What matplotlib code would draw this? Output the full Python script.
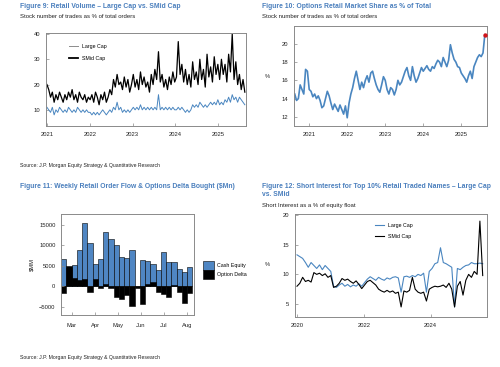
import matplotlib
matplotlib.use("Agg")
import matplotlib.pyplot as plt
import matplotlib.dates as mdates
import pandas as pd

plt.rcParams['font.family'] = ['Liberation Sans', 'DejaVu Sans']

TITLE_BLUE = '#4a7fbd'
LINE_BLUE = '#4a86c0'
FRAME = '#8a8a8a'

# ---------------- data ----------------
# Figure 9: retail volume (semi-monthly readings, Jan 2021 - Aug 2025)
smid_cap = [20, 18, 15, 17, 13, 16, 14, 17, 15, 13, 16, 14, 17, 15, 18, 14, 16, 13, 17, 15, 14, 16, 13, 15,
            14, 16, 13, 17, 15, 12, 16, 14, 17, 13, 15, 18, 16, 22, 19, 24, 20, 21, 18, 23, 19, 22, 17, 20,
            24, 19, 22, 18, 25, 20, 23, 19, 21, 17, 24, 20, 26, 22, 33, 21, 24, 19, 22, 18, 23, 20, 25, 21,
            23, 37, 24, 28, 21, 26, 20, 24, 19, 29, 22, 25, 20, 30, 22, 26, 19, 32, 23, 27, 21, 31, 24, 28,
            22, 30, 24, 28, 21, 32, 25, 40, 22, 29, 20, 24, 18, 22, 17]
large_cap = [11, 10, 9, 11, 8, 10, 9, 11, 10, 9, 10, 9, 11, 10, 9, 10, 9, 11, 10, 9, 10, 9, 10, 9,
             9, 8, 9, 8, 9, 8, 9, 10, 9, 8, 9, 10, 9, 11, 10, 13, 10, 11, 9, 10, 9, 10, 9, 10,
             11, 10, 11, 10, 12, 10, 11, 10, 11, 10, 11, 10, 11, 10, 16, 10, 11, 10, 11, 10, 11, 10, 11, 10,
             10, 11, 10, 11, 10, 9, 10, 9, 10, 12, 11, 12, 11, 13, 12, 11, 12, 11, 12, 13, 12, 13, 12, 14,
             12, 13, 12, 14, 13, 15, 13, 16, 14, 15, 13, 15, 14, 13, 12]
fig9_dates = pd.date_range('2021-01-01', '2025-08-15', periods=len(smid_cap))

# Figure 10: options retail market share (%)
options_share = [14.5, 13.8, 14.0, 15.5, 15.0, 14.5, 17.2, 17.0, 15.0, 14.8, 14.2, 14.5, 14.0, 14.3,
                 13.8, 13.0, 13.2, 14.0, 14.8, 14.3, 13.5, 12.8, 13.4, 13.0, 12.6, 13.3, 12.8, 12.3,
                 13.2, 11.9, 13.5, 14.5, 15.2, 16.2, 17.0, 16.0, 15.0, 15.8, 15.2, 16.0, 16.5, 15.8,
                 16.8, 17.0, 16.2, 15.5, 15.0, 14.7, 15.5, 16.4, 16.0, 15.0, 14.5, 15.2, 15.0, 14.4,
                 15.0, 16.0, 15.5, 15.8, 16.4, 17.0, 17.4, 16.5, 16.0, 17.5, 16.5, 15.8, 16.2, 16.8,
                 17.4, 17.0, 17.3, 17.6, 17.2, 17.0, 17.5, 17.3, 17.8, 18.2, 18.0, 17.5, 18.5, 18.0,
                 17.5, 18.2, 19.9, 19.0, 18.3, 18.0, 17.5, 17.4, 16.8, 16.5, 16.2, 15.8, 16.5, 17.0,
                 16.2, 17.5, 18.0, 18.5, 18.8, 18.6, 19.0, 21.0]
fig10_dates = pd.date_range('2020-08-15', '2025-08-15', periods=len(options_share))

# Figure 11: weekly retail order flow ($Mn)
cash_equity = [6700, 4600, 5300, 8800, 15600, 10600, 5500, 6600, 13400, 11500, 10000, 7300, 7000,
               8900, 0, 6500, 6300, 5500, 3900, 8400, 5900, 5900, 4300, 3600, 4800]
option_delta = [-1700, 4900, 2000, 1500, 1900, -1400, 1700, -400, 600, -500, -2700, -3100, -2000,
                -4800, -300, -4200, 500, 1000, -1300, -1900, -2500, 400, -1300, -4000, -1500]
fig11_weeks = pd.date_range('2025-02-18', periods=len(cash_equity), freq='7D')

# Figure 12: short interest (% of equity float)
si_large = [13.3, 13.0, 12.7, 12.0, 11.2, 12.0, 11.5, 11.0, 11.6, 10.8, 11.5, 11.0, 10.5, 8.0, 7.8, 8.2,
            8.5, 8.0, 8.3, 7.9, 8.2, 8.0, 8.4, 8.0, 8.6, 9.2, 9.6, 9.3, 9.0, 9.5, 9.2, 9.0, 9.4, 9.2,
            9.5, 9.6, 9.4, 7.0, 9.6, 9.7, 9.5, 9.8, 9.6, 10.0, 9.8, 10.2, 7.0, 10.5, 11.0, 11.8, 12.0,
            14.5, 12.0, 11.8, 11.5, 11.2, 4.5, 11.0, 10.8, 11.2, 11.5, 11.6, 12.0, 11.8, 11.8]
si_smid = [8.0, 8.5, 9.5, 8.8, 9.0, 8.7, 10.3, 10.0, 10.2, 9.8, 10.1, 9.5, 9.8, 7.8, 8.0, 8.5,
           9.3, 9.0, 9.2, 8.8, 8.5, 8.9, 8.3, 7.6, 8.2, 8.8, 9.0, 8.6, 8.2, 7.5, 7.2, 7.0, 7.3, 7.0,
           7.2, 6.8, 7.0, 4.5, 7.2, 7.0, 7.3, 9.5, 7.5, 7.0, 6.8, 7.0, 5.5, 7.5, 7.8, 8.0, 7.9,
           8.0, 8.2, 7.8, 8.5, 7.5, 4.5, 8.0, 8.8, 6.5, 9.0, 10.0, 9.5, 10.5, 10.0, 19.0, 9.8]
si_large = si_large + [11.9, 11.8]
fig12_dates = pd.date_range('2020-01-01', '2025-07-25', periods=len(si_large))


# ---------------- layout helpers ----------------
W, H = 500, 367
fig = plt.figure(figsize=(5.0, 3.67), dpi=100)


def px_axes(l, t, r, b):
    return fig.add_axes([l / W, 1 - b / H, (r - l) / W, (b - t) / H])


def ftext(x, y, s, **kw):
    fig.text(x / W, 1 - y / H, s, va='center', ha=kw.pop('ha', 'left'), **kw)


def style(ax):
    for sp in ax.spines.values():
        sp.set_color(FRAME)
        sp.set_linewidth(0.7)
    ax.tick_params(direction='in', length=2, width=0.5, color=FRAME,
                   labelsize=4.2, pad=4, labelcolor='#222222')


def title(x, y, s):
    ftext(x, y, s, fontsize=4.85, fontweight='bold', color=TITLE_BLUE)


def sub(x, y, s):
    ftext(x, y, s, fontsize=4.3, color='#222222')


SOURCE = 'Source: J.P. Morgan Equity Strategy & Quantitative Research'

# ---------------- Figure 9 ----------------
title(20, 6, 'Figure 9: Retail Volume \u2013 Large Cap vs. SMid Cap')
sub(20, 17, 'Stock number of trades as % of total orders')
ax9 = px_axes(46, 33, 246, 126)
ax9.plot(fig9_dates, smid_cap, color='black', lw=0.9, label='SMid Cap')
ax9.plot(fig9_dates, large_cap, color=LINE_BLUE, lw=0.7, label='Large Cap')
ax9.set_ylim(3.6, 40.4)
ax9.set_yticks([10, 20, 30, 40])
ax9.set_xlim(pd.Timestamp('2020-12-24'), pd.Timestamp('2025-08-25'))
ax9.xaxis.set_major_locator(mdates.YearLocator())
ax9.xaxis.set_major_formatter(mdates.DateFormatter('%Y'))
style(ax9)
h, l = ax9.get_legend_handles_labels()
leg9 = ax9.legend(h[::-1], l[::-1], loc='upper left', bbox_to_anchor=(0.09, 0.93), frameon=False,
                  fontsize=3.8, handlelength=1.8, labelspacing=1.2, handletextpad=0.8)
leg9.get_lines()[0].set_color('#8c8c8c')
leg9.get_lines()[1].set_linewidth(1.3)
ftext(20, 166, SOURCE, fontsize=3.7, color='#222222')

# ---------------- Figure 10 ----------------
title(262, 6, 'Figure 10: Options Retail Market Share as % of Total')
sub(262, 17, 'Stock number of trades as % of total orders')
ax10 = px_axes(294, 26, 487, 126)
ax10.plot(fig10_dates, options_share, color=LINE_BLUE, lw=1.2)
ax10.scatter(fig10_dates[-1:], options_share[-1:], s=10, color='#d0141a', zorder=5, linewidths=0)
ax10.set_ylim(11.0, 21.95)
ax10.set_yticks([12, 14, 16, 18, 20])
ax10.set_xlim(pd.Timestamp('2020-08-08'), pd.Timestamp('2025-09-05'))
ax10.xaxis.set_major_locator(mdates.YearLocator())
ax10.xaxis.set_major_formatter(mdates.DateFormatter('%Y'))
style(ax10)
ftext(267, 76, '%', fontsize=4.2, color='#222222', ha='center')

# ---------------- Figure 11 ----------------
title(20, 186, 'Figure 11: Weekly Retail Order Flow & Options Delta Bought ($Mn)')
ax11 = px_axes(61, 214, 194, 315)
ax11.bar(fig11_weeks, cash_equity, width=7, color='#4f86c3', edgecolor='black', lw=0.4,
         label='Cash Equity')
ax11.bar(fig11_weeks, option_delta, width=7, color='black', edgecolor='black', lw=0.4,
         label='Option Delta')
ax11.set_ylim(-7000, 17700)
ax11.set_yticks([-5000, 0, 5000, 10000, 15000])
ax11.set_xlim(fig11_weeks[0] - pd.Timedelta(days=3.6), fig11_weeks[-1] + pd.Timedelta(days=5.6))
ax11.xaxis.set_major_locator(mdates.MonthLocator())
ax11.xaxis.set_major_formatter(mdates.DateFormatter('%b'))
style(ax11)
ax11.tick_params(axis='x', pad=6)
ax11.set_ylabel('$MM', fontsize=4.2, color='#222222', labelpad=3)
ax11.legend(loc='center left', bbox_to_anchor=(203 / W, 1 - 270 / H), bbox_transform=fig.transFigure,
            frameon=False, fontsize=3.8, handlelength=2.0, handleheight=2.2, labelspacing=0,
            borderpad=0, borderaxespad=0, handletextpad=0.7)
ftext(20, 358, SOURCE, fontsize=3.7, color='#222222')

# ---------------- Figure 12 ----------------
title(262, 186, 'Figure 12: Short Interest for Top 10% Retail Traded Names \u2013 Large Cap')
title(262, 194, 'vs. SMid')
sub(262, 205, 'Short Interest as a % of equity float')
ax12 = px_axes(295, 214, 487, 317)
ax12.plot(fig12_dates, si_large, color=LINE_BLUE, lw=0.8, label='Large Cap')
ax12.plot(fig12_dates, si_smid, color='black', lw=0.8, label='SMid Cap')
ax12.set_ylim(2.8, 20.2)
ax12.set_yticks([5, 10, 15, 20])
ax12.set_xlim(pd.Timestamp('2019-12-10'), pd.Timestamp('2025-09-10'))
ax12.xaxis.set_major_locator(mdates.YearLocator(2))
ax12.xaxis.set_major_formatter(mdates.DateFormatter('%Y'))
style(ax12)
ax12.legend(loc='upper left', bbox_to_anchor=(0.39, 0.96), frameon=False, fontsize=3.8,
            handlelength=1.8, labelspacing=1.2, handletextpad=0.8)
ftext(267, 265, '%', fontsize=4.2, color='#222222', ha='center')

fig.savefig('out.png', dpi=100)
